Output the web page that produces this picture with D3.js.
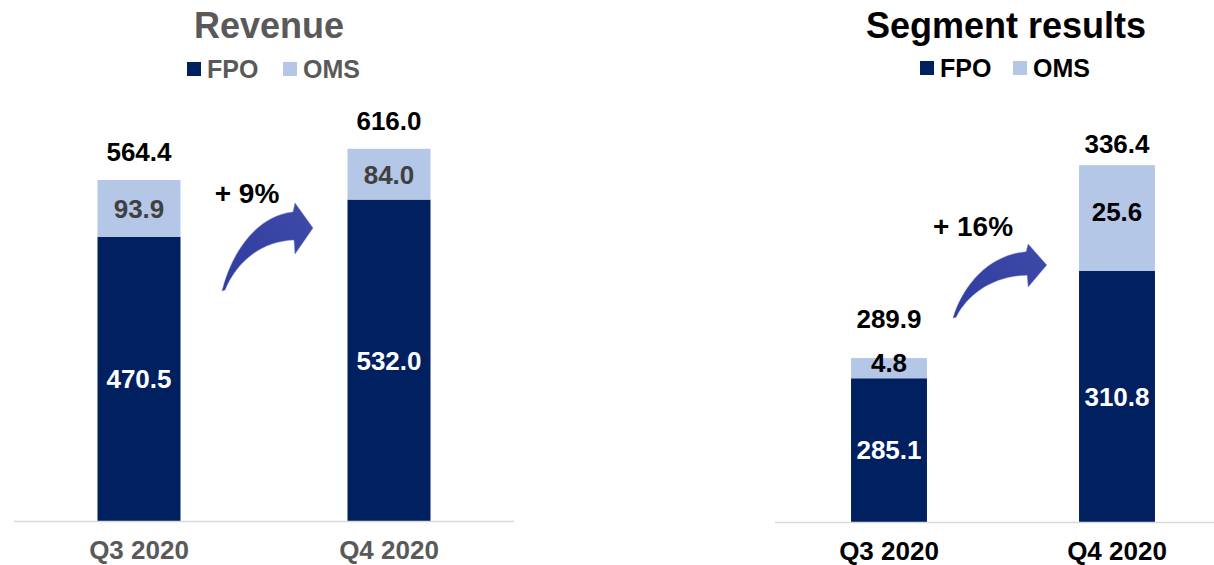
<!DOCTYPE html>
<html>
<head>
<meta charset="utf-8">
<script src="https://cdn.jsdelivr.net/npm/d3@7"></script>
<style>
	body { margin: 0; background: #fff; }
	svg { display: block; font-family: "Liberation Sans", Arial, sans-serif; font-weight: bold; }
</style>
</head>
<body>
<svg id="chart" width="1214" height="565"></svg>
<script>
var quarters = ["Q3 2020", "Q4 2020"];
var seriesNames = ["FPO", "OMS"];

var revenueFpo = [470.5, 532.0];
var revenueOms = [93.9, 84.0];
var revenueTotal = [564.4, 616.0];
var revenueGrowth = "+ 9%";

var segmentFpo = [285.1, 310.8];
var segmentOms = [4.8, 25.6];
var segmentTotal = [289.9, 336.4];
var segmentGrowth = "+ 16%";
// the slide does not draw the segment bars to scale, these are the heights as drawn
var segmentFpoDrawn = [178, 310.8];
var segmentOmsDrawn = [25, 131];

var colors = { FPO: "#002060", OMS: "#b4c7e7" };

var svg = d3.select("#chart");

// curved growth arrow, local coords with the tail at 0,0
var arrowPath = "M0,0 C10,-40 35,-75 71,-79 L73,-88 L91,-63 L73,-37 L72,-51 C40,-50 15,-30 3,-1 Z";

function drawPanel(o) {
	var g = svg.append("g");

	var x = d3.scaleBand()
		.domain(quarters)
		.range(o.xRange)
		.paddingInner(o.pad)
		.paddingOuter(o.pad / 2);

	var y = d3.scaleLinear()
		.domain(o.yDomain)
		.range([o.baseline, o.yTop]);

	var rows = quarters.map(function(q, i) {
		return { q: q, fpo: o.fpoDrawn[i], oms: o.omsDrawn[i] };
	});
	var stack = d3.stack().keys(["fpo", "oms"])(rows);

	// bars
	g.selectAll("g.layer").data(stack).enter()
		.append("g")
		.attr("class", "layer")
		.attr("fill", function(d) { return d.key == "fpo" ? colors.FPO : colors.OMS; })
		.selectAll("rect").data(function(d) { return d; }).enter()
		.append("rect")
		.attr("x", function(d) { return x(d.data.q); })
		.attr("width", x.bandwidth())
		.attr("y", function(d) { return y(d[1]); })
		.attr("height", function(d) { return y(d[0]) - y(d[1]); });

	// baseline
	g.append("line")
		.attr("x1", o.lineX[0]).attr("x2", o.lineX[1])
		.attr("y1", o.baseline + 0.5).attr("y2", o.baseline + 0.5)
		.attr("stroke", "#d9d9d9").attr("stroke-width", 1.5);

	// x axis labels
	var axis = d3.axisBottom(x).tickSize(0).tickPadding(0);
	var ax = g.append("g")
		.attr("transform", "translate(0," + o.baseline + ")")
		.call(axis);
	ax.select(".domain").remove();
	ax.selectAll("text")
		.attr("y", 29)
		.attr("dy", "0.36em")
		.attr("font-size", 26)
		.attr("font-family", "Liberation Sans, Arial, sans-serif")
		.attr("font-weight", "bold")
		.attr("fill", o.axisColor);

	var cx = function(i) { return x(quarters[i]) + x.bandwidth() / 2; };

	quarters.forEach(function(q, i) {
		var fpoTop = y(stack[0][i][1]);
		var omsTop = y(stack[1][i][1]);
		var fpoMid = (o.baseline + fpoTop) / 2;
		var omsMid = (fpoTop + omsTop) / 2 + o.omsShift;
		var totalY = Math.min(omsTop - o.totalGap, omsMid - 44);

		g.append("text").attr("x", cx(i)).attr("y", fpoMid).attr("dy", "0.36em")
			.attr("text-anchor", "middle").attr("font-size", 26).attr("fill", "#fff")
			.text(o.fpo[i].toFixed(1));
		g.append("text").attr("x", cx(i)).attr("y", omsMid).attr("dy", "0.36em")
			.attr("text-anchor", "middle").attr("font-size", 26).attr("fill", o.omsLabelColor)
			.text(o.oms[i].toFixed(1));
		g.append("text").attr("x", cx(i)).attr("y", totalY).attr("dy", "0.36em")
			.attr("text-anchor", "middle").attr("font-size", 26).attr("fill", "#000")
			.text(o.total[i].toFixed(1));
	});

	// title
	g.append("text")
		.attr("x", o.titleX).attr("y", 25).attr("dy", "0.36em")
		.attr("text-anchor", "middle").attr("font-size", 36).attr("fill", o.titleColor)
		.text(o.title);

	// legend
	var leg = g.append("g").attr("transform", "translate(" + o.legendX + "," + o.legendY + ")");
	var item = leg.selectAll("g").data(seriesNames).enter()
		.append("g")
		.attr("transform", function(d, i) { return "translate(" + (i * o.legendStep) + ",0)"; });
	item.append("rect")
		.attr("x", 0).attr("y", -7).attr("width", 14).attr("height", 14)
		.attr("fill", function(d) { return colors[d]; });
	item.append("text")
		.attr("x", 20).attr("y", 0).attr("dy", "0.36em")
		.attr("font-size", 25).attr("fill", o.legendColor)
		.text(function(d) { return d; });

	// growth arrow and label
	g.append("path")
		.attr("d", arrowPath)
		.attr("transform", "translate(" + o.arrow[0] + "," + o.arrow[1] + ") scale(" + o.arrow[2] + "," + o.arrow[3] + ")")
		.attr("fill", "url(#arrowGrad)")
		.attr("stroke", "#6f7fd0").attr("stroke-width", 0.8).attr("stroke-opacity", 0.6);
	g.append("text")
		.attr("x", o.growthPos[0]).attr("y", o.growthPos[1]).attr("dy", "0.36em")
		.attr("text-anchor", "middle").attr("font-size", 28).attr("fill", "#000")
		.text(o.growth);
}

var defs = svg.append("defs");
var grad = defs.append("linearGradient").attr("id", "arrowGrad")
	.attr("x1", "0").attr("y1", "1").attr("x2", "1").attr("y2", "0");
grad.append("stop").attr("offset", "0").attr("stop-color", "#2f3c9e");
grad.append("stop").attr("offset", "1").attr("stop-color", "#3f4aa8");

drawPanel({
	title: "Revenue", titleX: 269, titleColor: "#595959",
	legendX: 187, legendY: 69, legendStep: 96, legendColor: "#595959",
	xRange: [14, 514], pad: 0.668, lineX: [14, 514],
	baseline: 521, yTop: 180, yDomain: [0, 564.4],
	fpo: revenueFpo, oms: revenueOms, total: revenueTotal,
	fpoDrawn: revenueFpo, omsDrawn: revenueOms,
	omsShift: 0, totalGap: 28,
	omsLabelColor: "#404040", axisColor: "#595959",
	arrow: [222, 291, 1, 1], growth: revenueGrowth, growthPos: [247, 193]
});

drawPanel({
	title: "Segment results", titleX: 1006, titleColor: "#000",
	legendX: 920, legendY: 68, legendStep: 93, legendColor: "#000",
	xRange: [775, 1231], pad: 0.667, lineX: [775, 1214],
	baseline: 522, yTop: 271, yDomain: [0, 310.8],
	fpo: segmentFpo, oms: segmentOms, total: segmentTotal,
	fpoDrawn: segmentFpoDrawn, omsDrawn: segmentOmsDrawn,
	omsShift: -6, totalGap: 22,
	omsLabelColor: "#000", axisColor: "#000",
	arrow: [953, 318, 1.03, 0.84], growth: segmentGrowth, growthPos: [973, 226]
});
</script>
</body>
</html>
